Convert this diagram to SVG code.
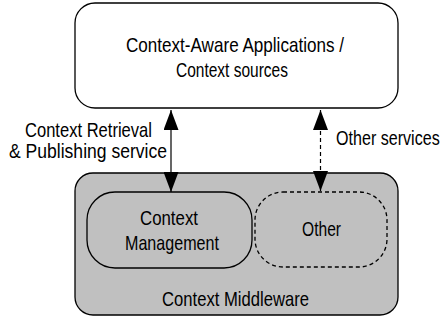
<svg xmlns="http://www.w3.org/2000/svg" width="445" height="326" viewBox="0 0 445 326">
<defs>
<style>
text{font-family:"Liberation Sans",Arial,sans-serif;font-size:21px;fill:#000}
.box{stroke:#000;stroke-width:1.3}
.ln{stroke:#000;stroke-width:1.2;fill:none}
</style>
<marker id="ah" markerWidth="20" markerHeight="15" refX="20" refY="7.5" orient="auto-start-reverse" markerUnits="userSpaceOnUse" viewBox="0 0 20 15">
<path d="M0,0 L20,7.5 L0,15 Z" fill="#000"/>
</marker>
</defs>
<rect width="445" height="326" fill="#fff"/>
<g id="apps">
<rect class="box" x="75" y="3" width="323" height="105" rx="20" fill="#fff"/>
<text x="126" y="52" textLength="218" lengthAdjust="spacingAndGlyphs">Context-Aware Applications /</text>
<text x="176" y="77" textLength="112" lengthAdjust="spacingAndGlyphs">Context sources</text>
</g>
<g id="middleware">
<rect class="box" x="75" y="173" width="323" height="142" rx="18" fill="#c0c0c0"/>
<text x="162" y="306" textLength="147" lengthAdjust="spacingAndGlyphs">Context Middleware</text>
</g>
<g id="management">
<rect class="box" x="87" y="192" width="165" height="76" rx="28" fill="#c0c0c0"/>
<text x="140" y="225" textLength="58" lengthAdjust="spacingAndGlyphs">Context</text>
<text x="125" y="250" textLength="94" lengthAdjust="spacingAndGlyphs">Management</text>
</g>
<g id="other">
<rect class="box" x="255" y="192" width="132" height="75" rx="28" fill="#c0c0c0" stroke-dasharray="4,3"/>
<text x="302" y="236" textLength="39" lengthAdjust="spacingAndGlyphs">Other</text>
</g>
<g id="connectors">
<line class="ln" x1="171" y1="110" x2="171" y2="192" marker-start="url(#ah)" marker-end="url(#ah)"/>
<line class="ln" x1="320.5" y1="110" x2="320.5" y2="191" stroke-dasharray="4,3" marker-start="url(#ah)" marker-end="url(#ah)"/>
<text x="25" y="137" textLength="127" lengthAdjust="spacingAndGlyphs">Context Retrieval</text>
<text x="9" y="158" textLength="158" lengthAdjust="spacingAndGlyphs">&amp; Publishing service</text>
<text transform="translate(336,145) scale(0.78,1)" x="0" y="0" textLength="133" lengthAdjust="spacingAndGlyphs">Other services</text>
</g>
</svg>
